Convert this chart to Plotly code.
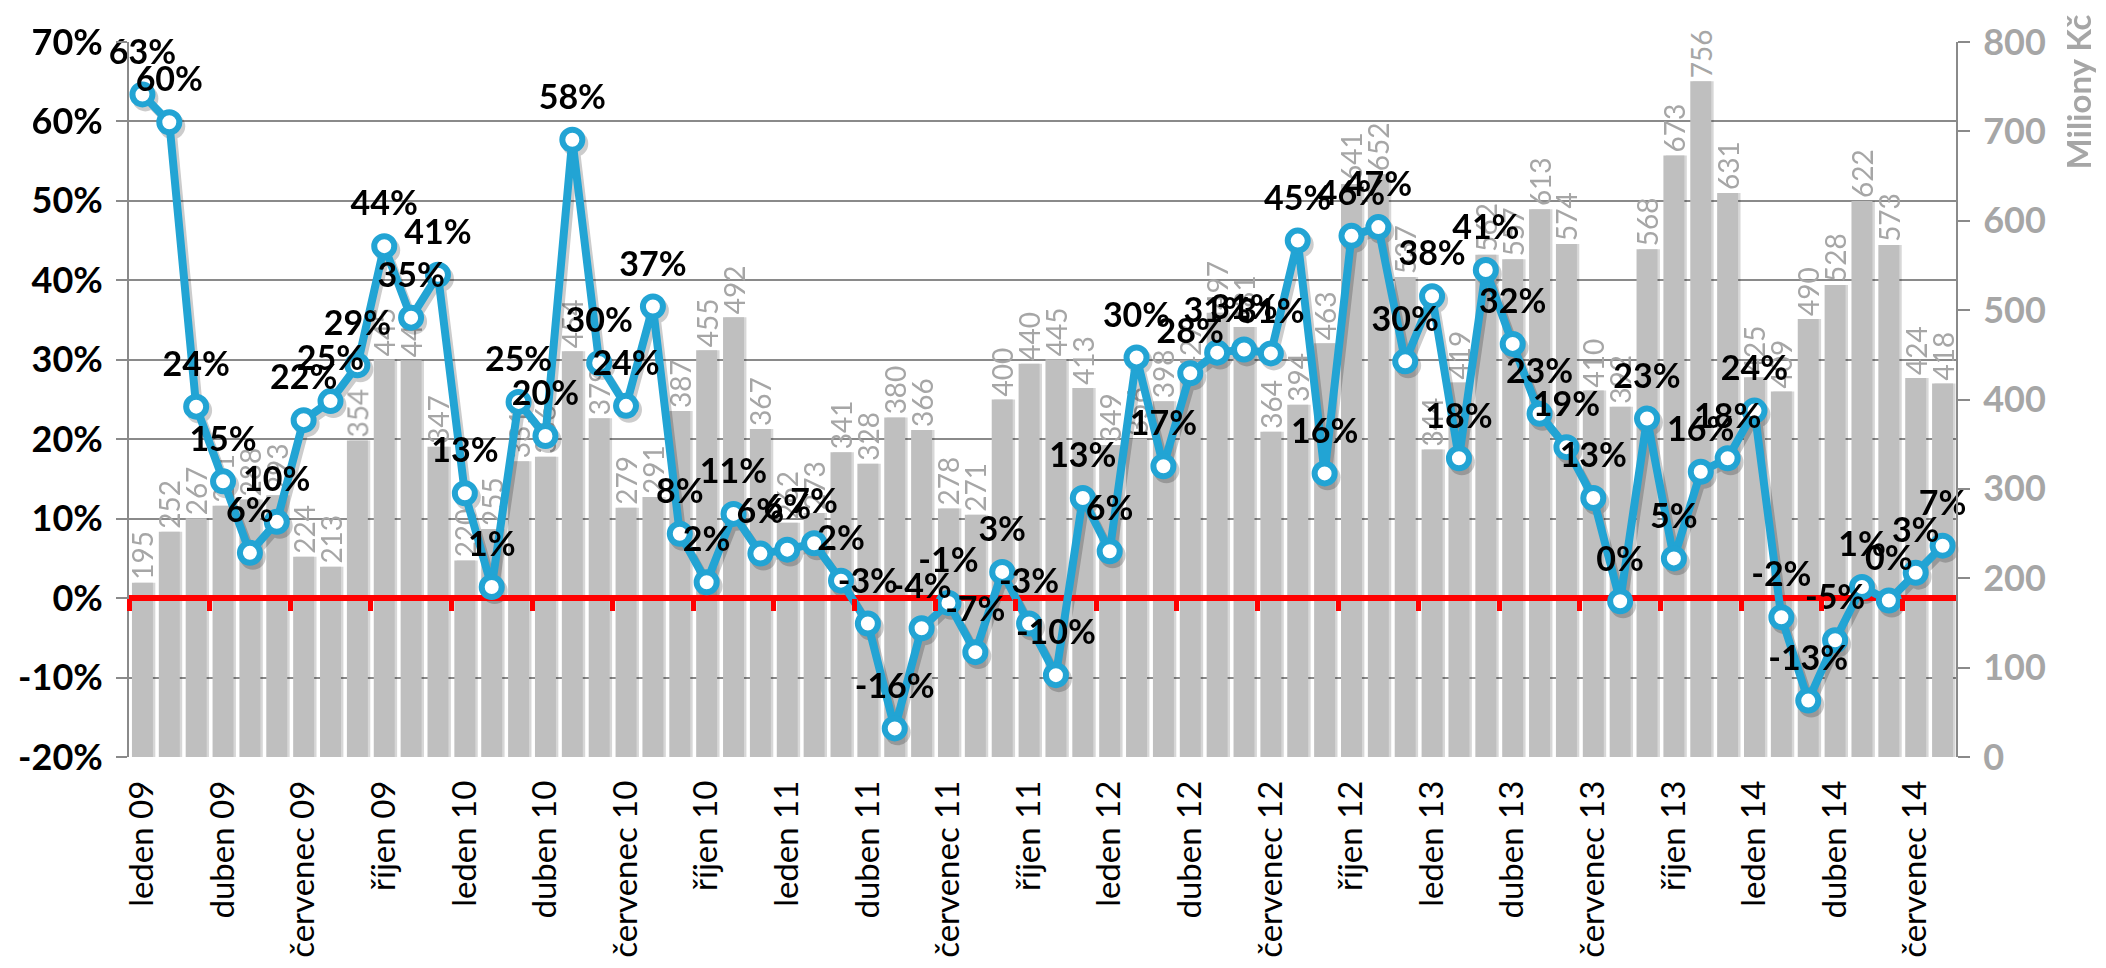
import plotly.graph_objects as go

# ---- data ----
month_names = ["leden", "únor", "březen", "duben", "květen", "červen",
               "červenec", "srpen", "září", "říjen", "listopad", "prosinec"]
years = ["09", "10", "11", "12", "13", "14"]
categories = [f"{m} {y}" for y in years for m in month_names][:68]

# monthly value, Miliony Kč (right axis)
sales = [195, 252, 267, 281, 288, 293, 224, 213, 354, 445, 444, 347,
         220, 255, 331, 336, 454, 379, 279, 291, 387, 455, 492, 367,
         262, 273, 341, 328, 380, 366, 278, 271, 400, 440, 445, 413,
         349, 356, 398, 427, 497, 481, 364, 394, 463, 641, 652, 537,
         344, 419, 562, 557, 613, 574, 410, 392, 568, 673, 756, 631,
         425, 409, 490, 528, 622, 573, 424, 418]

# year-on-year growth, % (left axis)
growth = [63.4, 59.9, 24.1, 14.7, 5.7, 9.6, 22.4, 24.8, 29.3, 44.3, 35.3, 40.7,
          13.2, 1.4, 24.7, 20.4, 57.7, 29.6, 24.2, 36.7, 8.1, 2.0, 10.6, 5.6,
          6.1, 6.9, 2.2, -3.2, -16.4, -3.8, -0.6, -6.8, 3.3, -3.2, -9.7, 12.6,
          5.9, 30.3, 16.6, 28.3, 30.9, 31.3, 30.8, 45.0, 15.7, 45.6, 46.7, 29.8,
          38.0, 17.6, 41.3, 32.0, 23.2, 19.0, 12.6, -0.4, 22.6, 5.0, 15.9, 17.6,
          23.6, -2.4, -12.9, -5.3, 1.4, -0.3, 3.2, 6.6]

# axis ticks
pct_ticks = list(range(-20, 71, 10))
pct_tick_text = [f"{v}%" for v in pct_ticks]
kc_ticks = list(range(0, 801, 100))

growth_labels = [f"{round(v)}%" for v in growth]
positions = list(range(len(categories)))
x_range = [-0.5, len(categories) - 0.5]
pct_range = [-20, 70]
kc_range = [0, 800]

# style
BLUE = "#22A4D4"
GRID = "#8A8A8A"
LABEL_GRAY = "#A6A6A6"
FONT = "Lato, 'Open Sans', sans-serif"
BAR_W = 0.78
SHADOW_DX = 0.11   # shadow shift to the right (category units, ~3 px)
SHADOW_DY = 0.5    # shadow shift downwards (percent units, ~4 px)

fig = go.Figure()

# bar shadow (drawn first on the main subplot)
fig.add_trace(go.Bar(
    x=positions, y=sales, xaxis="x", yaxis="y",
    width=BAR_W, offset=-BAR_W / 2 + 0.09,
    marker=dict(color="#000000", line=dict(width=0)), opacity=0.16,
    showlegend=False, hoverinfo="skip",
))

# bars
fig.add_trace(go.Bar(
    x=positions, y=sales, xaxis="x", yaxis="y",
    marker=dict(color="#BFBFBF", line=dict(width=0)),
    width=BAR_W, offset=-BAR_W / 2,
    text=[str(v) for v in sales], textposition="outside", textangle=-90,
    textfont=dict(family=FONT, size=28, color=LABEL_GRAY),
    constraintext="none", cliponaxis=False, showlegend=False,
))

# line shadow on a slightly shifted pair of hidden axes
fig.add_trace(go.Scatter(
    x=positions, y=growth, xaxis="x2", yaxis="y2", mode="lines+markers",
    line=dict(color="#000000", width=8),
    marker=dict(size=26, color="#000000", line=dict(width=0)),
    opacity=0.2, cliponaxis=False, showlegend=False, hoverinfo="skip",
))

# red zero line
fig.add_trace(go.Scatter(
    x=x_range, y=[0, 0], xaxis="x3", yaxis="y3", mode="lines",
    line=dict(color="#FF0000", width=6), showlegend=False, hoverinfo="skip",
))

# growth line
fig.add_trace(go.Scatter(
    x=positions, y=growth, xaxis="x3", yaxis="y3", mode="lines+markers",
    line=dict(color=BLUE, width=8),
    marker=dict(size=20, color="white", line=dict(color=BLUE, width=6)),
    cliponaxis=False, showlegend=False,
))

# growth labels (invisible larger markers push the labels a bit higher)
fig.add_trace(go.Scatter(
    x=positions, y=growth, xaxis="x3", yaxis="y3", mode="markers+text",
    marker=dict(size=34, color="rgba(0,0,0,0)"),
    text=growth_labels, textposition="top center",
    textfont=dict(family=FONT, size=34, color="black", weight="bold"),
    cliponaxis=False, showlegend=False, hoverinfo="skip",
))

# empty trace so the red tick axis gets drawn
fig.add_trace(go.Scatter(x=[], y=[], xaxis="x4", yaxis="y3", showlegend=False))

zero_pos = (0 - pct_range[0]) / (pct_range[1] - pct_range[0])
hidden = dict(visible=False, showgrid=False, zeroline=False, automargin=False)

fig.update_layout(
    width=2106, height=968,
    margin=dict(l=129, r=150, t=42, b=211, autoexpand=False),
    paper_bgcolor="white", plot_bgcolor="white",
    barmode="overlay",
    xaxis=dict(
        range=x_range, tickvals=positions[::3], ticktext=categories[::3],
        tickangle=-90, ticks="", showgrid=False, zeroline=False, showline=False,
        tickfont=dict(family=FONT, size=33, color="black"),
        ticklabelstandoff=16, automargin=False,
    ),
    xaxis2=dict(overlaying="x", range=[x_range[0] - SHADOW_DX, x_range[1] - SHADOW_DX], **hidden),
    yaxis2=dict(overlaying="y", range=[pct_range[0] + SHADOW_DY, pct_range[1] + SHADOW_DY], **hidden),
    xaxis3=dict(overlaying="x", range=x_range, **hidden),
    xaxis4=dict(
        overlaying="x", anchor="free", position=zero_pos, range=x_range,
        tickvals=[p - 0.5 for p in positions[::3]],
        ticks="outside", ticklen=12, tickwidth=5, tickcolor="#FF0000",
        showticklabels=False, showgrid=False, zeroline=False, showline=False,
        automargin=False,
    ),
    yaxis=dict(
        side="right", range=kc_range, tickvals=kc_ticks,
        showgrid=False, zeroline=False,
        showline=True, linecolor=GRID, linewidth=2,
        ticks="outside", ticklen=12, tickwidth=2, tickcolor=GRID,
        tickfont=dict(family=FONT, size=36, color=LABEL_GRAY, weight="bold"),
        ticklabelstandoff=6, automargin=False,
    ),
    yaxis3=dict(
        overlaying="y", side="left", range=pct_range,
        tickvals=pct_ticks, ticktext=pct_tick_text,
        showgrid=True, gridcolor=GRID, gridwidth=2, zeroline=False,
        showline=True, linecolor=GRID, linewidth=2,
        ticks="outside", ticklen=11, tickwidth=2, tickcolor=GRID,
        tickfont=dict(family=FONT, size=36, color="black", weight="bold"),
        ticklabelstandoff=6, automargin=False,
    ),
    annotations=[dict(
        text="Miliony Kč", textangle=-90, xref="paper", yref="paper",
        x=1.067, y=0.93, xanchor="center", yanchor="middle", showarrow=False,
        font=dict(family=FONT, size=33, color=LABEL_GRAY, weight="bold"),
    )],
)

fig.write_html(
    "out.html",
    config={"displayModeBar": False},
    post_script="document.body.style.margin='0';document.body.style.overflow='hidden';",
)
